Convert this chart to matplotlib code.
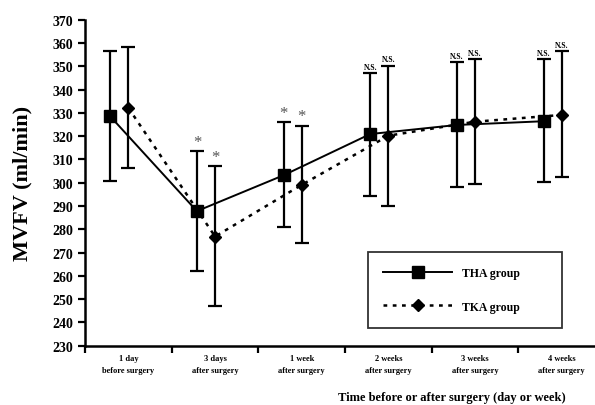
import matplotlib.pyplot as plt
import numpy as np

plt.rcParams['font.family'] = ['Liberation Serif', 'DejaVu Serif']
plt.rcParams['font.weight'] = 'bold'

categories = ['1 day\nbefore surgery', '3 days\nafter surgery', '1 week\nafter surgery',
              '2 weeks\nafter surgery', '3 weeks\nafter surgery', '4 weeks\nafter surgery']

tha_mean = [328.5, 287.8, 303.2, 320.9, 324.8, 326.4]
tha_upper = [356.4, 313.5, 326.0, 347.1, 351.7, 353.1]
tha_lower = [300.9, 262.3, 280.9, 294.2, 298.3, 300.2]

tka_mean = [332.1, 276.9, 299.1, 320.2, 326.2, 329.1]
tka_upper = [358.4, 307.3, 324.5, 350.3, 353.1, 356.4]
tka_lower = [306.4, 247.0, 274.3, 290.2, 299.5, 302.4]

marks = ['', '*', '*', 'N.S.', 'N.S.', 'N.S.']

x = np.arange(len(categories))
x_tha = x - 0.21
x_tka = x

tha_mean = np.array(tha_mean)
tka_mean = np.array(tka_mean)
tha_err = [tha_mean - np.array(tha_lower), np.array(tha_upper) - tha_mean]
tka_err = [tka_mean - np.array(tka_lower), np.array(tka_upper) - tka_mean]

fig = plt.figure(figsize=(5.95, 4.06), dpi=100)
ax = fig.add_axes([0.143, 0.146, 0.874, 0.803])

ax.errorbar(x_tha, tha_mean, yerr=tha_err, fmt='none', ecolor='black',
            elinewidth=1.6, capsize=5, capthick=1.6)
ax.errorbar(x_tka, tka_mean, yerr=tka_err, fmt='none', ecolor='black',
            elinewidth=1.6, capsize=5, capthick=1.6)
ax.plot(x_tha, tha_mean, color='black', linestyle='-', linewidth=1.4,
        marker='s', markersize=8, label='THA group')
ax.plot(x_tka, tka_mean, color='black', linestyle=(0, (1.5, 2.2)), linewidth=1.8,
        marker='D', markersize=6, label='TKA group')

for i, m in enumerate(marks):
    if m == '*':
        for xx, top in [(x_tha[i], tha_upper[i]), (x_tka[i], tka_upper[i])]:
            ax.text(xx, top + 0.5, '*', ha='center', va='bottom', fontsize=12,
                    color='#555555', fontweight='normal')
    elif m:
        for xx, top in [(x_tha[i], tha_upper[i]), (x_tka[i], tka_upper[i])]:
            ax.text(xx, top + 1.0, m, ha='center', va='bottom', fontsize=5.5,
                    fontweight='bold')

ax.set_xlim(-0.5, 5.5)
ax.set_ylim(230, 370)
ax.set_yticks(np.arange(230, 371, 10))
ax.set_xticks(np.arange(-0.5, 5.6, 1))
ax.set_xticklabels([])
ax.set_xticks(x, minor=True)
ax.set_xticklabels(categories, minor=True, fontsize=6, fontweight='bold', linespacing=1.6)
ax.tick_params(axis='x', which='minor', length=0, pad=6)
ax.tick_params(axis='x', which='major', direction='out', length=5, width=1.6)
ax.tick_params(axis='y', direction='out', length=5, width=1.6, labelsize=10)
for lab in ax.get_yticklabels():
    lab.set_fontweight('bold')

ax.spines['top'].set_visible(False)
ax.spines['right'].set_visible(False)
ax.spines['left'].set_linewidth(1.8)
ax.spines['bottom'].set_linewidth(1.8)

ax.set_ylabel('MVFV (ml/min)', fontsize=16, fontweight='bold', labelpad=14)
fig.text(0.76, 0.02, 'Time before or after surgery (day or week)', ha='center',
         va='center', fontsize=9, fontweight='bold')

leg = ax.legend(loc='upper left',
                bbox_to_anchor=(368 / 595, 1 - 253 / 406, 194 / 595, 0),
                bbox_transform=fig.transFigure, mode='expand', fancybox=False,
                frameon=True, edgecolor='black', borderpad=1.3, labelspacing=1.8,
                handlelength=5.8, handletextpad=0.9, borderaxespad=0,
                prop={'size': 8.5, 'weight': 'bold'})
leg.get_frame().set_linewidth(1.3)

fig.savefig('out.png', dpi=100)
